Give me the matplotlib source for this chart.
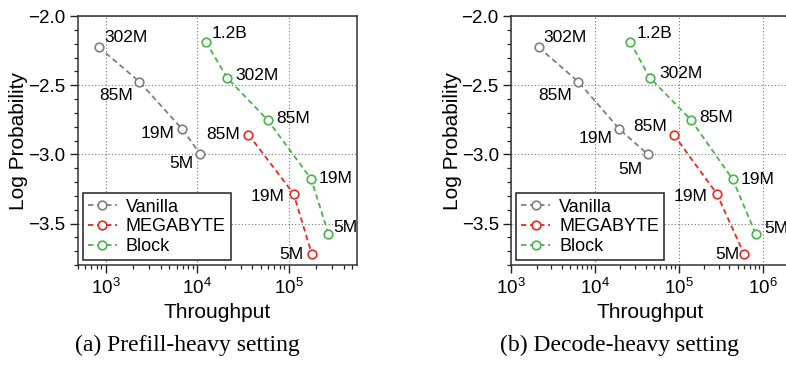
import matplotlib
matplotlib.use("Agg")
import matplotlib.pyplot as plt
import matplotlib.ticker as mticker

plt.rcParams['font.family'] = ['Liberation Sans', 'DejaVu Sans']
plt.rcParams['mathtext.fontset'] = 'custom'
plt.rcParams['mathtext.rm'] = 'Liberation Sans'
plt.rcParams['mathtext.it'] = 'Liberation Sans:italic'
plt.rcParams['mathtext.bf'] = 'Liberation Sans:bold'

# ---------------- data ----------------
series_names = ["Vanilla", "MEGABYTE", "Block"]
colors = ["#7f7f7f", "#e8291f", "#47b547"]

vanilla_sizes = ["302M", "85M", "19M", "5M"]
megabyte_sizes = ["85M", "19M", "5M"]
block_sizes = ["1.2B", "302M", "85M", "19M", "5M"]

vanilla_logp = [-2.226, -2.474, -2.818, -2.999]
megabyte_logp = [-2.857, -3.285, -3.723]
block_logp = [-2.188, -2.445, -2.751, -3.179, -3.576]

# (a) prefill-heavy throughput
prefill_vanilla_tp = [847, 2335, 6890, 10840]
prefill_megabyte_tp = [36500, 113500, 180000]
prefill_block_tp = [12500, 21200, 58900, 177000, 273000]

# (b) decode-heavy throughput
decode_vanilla_tp = [2120, 6280, 19500, 42400]
decode_megabyte_tp = [86500, 283000, 600000]
decode_block_tp = [26100, 44800, 139000, 436000, 826000]

yticks = [-2.0, -2.5, -3.0, -3.5]
captions = ["(a) Prefill-heavy setting", "(b) Decode-heavy setting"]

# label offsets (pixels) and alignment, per panel
prefill_offsets = {
    "Vanilla": [(5, 5, 'left', 'baseline'), (-6, -6, 'right', 'top'), (-8, -4, 'right', 'center'), (-7, -2, 'right', 'top')],
    "MEGABYTE": [(-8, 0, 'right', 'center'), (-9, -3, 'right', 'center'), (-8, 0, 'right', 'center')],
    "Block": [(6, 4, 'left', 'baseline'), (8, 2, 'left', 'center'), (9, 1, 'left', 'center'), (7, 1, 'left', 'center'), (5, 7, 'left', 'center')],
}
decode_offsets = {
    "Vanilla": [(5, 5, 'left', 'baseline'), (-6, -6, 'right', 'top'), (-7, -9, 'right', 'center'), (-5, -8, 'right', 'top')],
    "MEGABYTE": [(-7, 8, 'right', 'center'), (-9, -3, 'right', 'center'), (-5, 0, 'right', 'center')],
    "Block": [(7, 4, 'left', 'baseline'), (10, 4, 'left', 'center'), (8, 2, 'left', 'center'), (8, 0, 'left', 'center'), (8, 6, 'left', 'center')],
}

FS_TICK = 13.5
FS_ANN = 12.5
FS_LEG = 13
FS_LABEL = 15
FS_CAP = 17

fig = plt.figure(figsize=(7.86, 3.66), dpi=100)
ax1 = fig.add_axes([78 / 786, 1 - 265 / 366, (357 - 78) / 786, (265 - 16) / 366])
ax2 = fig.add_axes([511.3 / 786, 1 - 265 / 366, (788 - 511.3) / 786, (265 - 16) / 366])

panels = [
    (ax1, [prefill_vanilla_tp, prefill_megabyte_tp, prefill_block_tp], prefill_offsets, (500, 5.6e5)),
    (ax2, [decode_vanilla_tp, decode_megabyte_tp, decode_block_tp], decode_offsets, (1e3, 2e6)),
]
all_logp = [vanilla_logp, megabyte_logp, block_logp]
all_sizes = [vanilla_sizes, megabyte_sizes, block_sizes]

for ax, tps, offsets, xl in panels:
    for name, color, tp, lp, sizes in zip(series_names, colors, tps, all_logp, all_sizes):
        ax.plot(tp, lp, linestyle=(0, (3.0, 2.0)), color=color, linewidth=1.3,
                marker='o', markersize=6.2, markerfacecolor='white',
                markeredgecolor=color, markeredgewidth=1.2, label=name, zorder=3)
        for x, y, s, (dx, dy, ha, va) in zip(tp, lp, sizes, offsets[name]):
            ax.annotate(s, (x, y), xytext=(dx, dy), textcoords='offset pixels',
                        ha=ha, va=va, fontsize=FS_ANN, color='black', zorder=4,
                        annotation_clip=False)
    ax.set_xscale('log')
    ax.set_xlim(*xl)
    ax.set_ylim(-3.8, -2.0)
    ax.set_yticks(yticks)
    ax.yaxis.set_major_formatter(mticker.FuncFormatter(lambda v, p: f"{v:.1f}".replace('-', '\u2212')))
    ax.yaxis.set_minor_locator(mticker.MultipleLocator(0.1))
    ax.xaxis.set_major_locator(mticker.LogLocator(base=10, numticks=10))
    ax.xaxis.set_minor_locator(mticker.LogLocator(base=10, subs=range(2, 10), numticks=20))
    ax.xaxis.set_minor_formatter(mticker.NullFormatter())
    ax.tick_params(axis='both', which='major', direction='out', length=6, width=1.0,
                   labelsize=FS_TICK, pad=3, color='#222222')
    ax.tick_params(axis='both', which='minor', direction='out', length=3, width=0.9, color='#222222')
    ax.grid(True, which='major', linestyle=(0, (1, 2)), color='#777777', linewidth=0.8)
    for sp in ax.spines.values():
        sp.set_linewidth(1.1)
        sp.set_color('#333333')
    ax.set_xlabel("Throughput", fontsize=FS_LABEL, labelpad=4)
    ax.set_ylabel("Log Probability", fontsize=FS_LABEL, labelpad=0)
    leg = ax.legend(loc='lower left', bbox_to_anchor=(0.0, 0.0), fontsize=FS_LEG, frameon=True,
                    fancybox=False, framealpha=1, edgecolor='#222222', borderpad=0.3,
                    labelspacing=0.15, handlelength=1.6, handletextpad=0.5, borderaxespad=0.25)
    leg.get_frame().set_linewidth(1.1)

fig.text(187 / 786, 1 - 345 / 366, captions[0], ha='center', va='center', fontsize=FS_CAP,
         family=['Liberation Serif', 'DejaVu Serif'])
fig.text(620 / 786, 1 - 345 / 366, captions[1], ha='center', va='center', fontsize=FS_CAP,
         family=['Liberation Serif', 'DejaVu Serif'])

fig.savefig("out.png", dpi=100)
